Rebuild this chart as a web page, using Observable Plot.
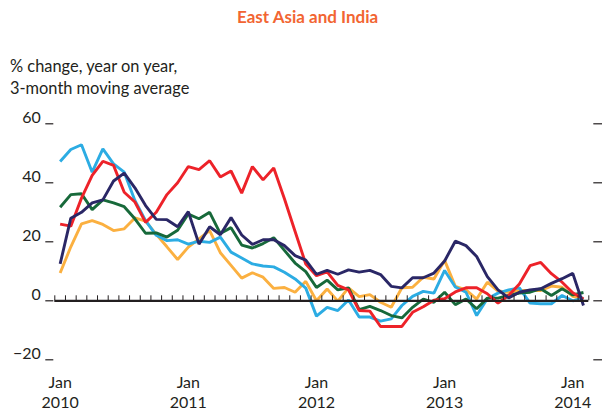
<!DOCTYPE html>
<html><head><meta charset="utf-8">
<script src="https://cdn.jsdelivr.net/npm/d3@7"></script>
<script src="https://cdn.jsdelivr.net/npm/@observablehq/plot@0.6"></script>
<style>
body{margin:0;background:#fff;font-family:Lato,"Open Sans",sans-serif;color:#231f20}
#wrap{width:602px;height:410px;position:relative;overflow:hidden}
#head{position:relative;height:100px}
#title{position:absolute;left:237px;top:6px;font-size:17px;font-weight:700;color:#f26532;white-space:nowrap}
#sub{position:absolute;left:10px;top:55px;font-size:16.4px;line-height:22px;white-space:nowrap}
</style></head><body>
<div id="wrap">
<div id="head"><div id="title">East Asia and India</div><div id="sub">% change, year on year,<br>3-month moving average</div></div>
<div id="chart"></div>
</div>
<script>
// Months: Jan 2010 (index 0) to Feb 2014 (index 49)
const months = d3.range(50);
const red = [26,25.3,34.8,42.5,47.3,45.9,36.8,33.5,26.6,30,36,40,45.5,44.5,47.5,42,44,36.5,45.5,41,45,34.6,23.5,12.5,8.5,9.8,5.2,3.7,-3.3,-3.5,-8.7,-8.7,-8.7,-3.9,-2,0.2,0.7,3,4.4,4.4,2.4,-0.8,1.8,5.7,11.9,13,9.2,6.3,2.7,0.6];
const lightBlue = [47.2,51.3,52.9,43.6,51.5,46.4,43.6,34,27.2,22.2,20.4,20.7,19.2,20.2,19.8,21.6,16.5,14.5,12.5,11.8,11.5,9.7,7.4,4.3,-5.2,-2.2,-3.3,0.3,-5.5,-5.5,-6.9,-6.1,-1.6,1.5,3.2,2.6,10.3,4.7,2.9,-5,0.7,2.6,3.7,4.4,-0.8,-1,-1,1.8,0,1];
const navy = [12.5,28,30,33.2,34.2,40.6,43.3,38.3,32.3,27.6,27.5,25.1,30.2,19.2,25.1,22.4,28.2,22.3,19.1,20.7,20.7,18.7,15.3,13.8,9,10.3,9,10.5,9.7,10.3,8.9,4.9,4.4,7.8,7.8,9.4,13.5,20.2,18.7,15,8.2,3.7,1,2.9,3.7,4.1,5.9,7.5,9.3,-1.6];
const green = [31.7,36,36.3,30.9,34.2,33.2,31.9,27.8,22.9,23,21.6,23.9,29.4,27.8,30,22.8,24.8,18.9,17.9,19.4,21.4,17.1,12.8,9.9,4.5,7,3.7,4.4,-3,-1.9,-3.3,-5,-5.8,-2.2,0.6,-0.5,2.9,-1.3,0.6,-2.7,0.9,0.9,1.8,2.6,2.9,4.1,1.8,4.1,2,2.8];
const orange = [9.4,18.3,26.1,27.2,25.9,23.8,24.4,28.1,27,22.5,18.3,14,18.2,21,23.8,16.3,12,7.7,9.5,8,4.2,4.5,2.9,6.6,0,4,-0.1,4.4,1.4,2.1,-0.5,-2.2,4.4,4.6,8,7.4,13.7,4.9,3.7,0.6,6.3,3.3,2.9,3.5,3.5,3.5,5,4.6,1.5,0.6];

const seriesNames = ["Series A","Series B","Series C","Series D","Series E"];
const seriesColors = ["#fbb040","#2cace3","#17693a","#ed2229","#2a2766"];
const seriesValues = [orange, lightBlue, green, red, navy];

const yTicks = [-20,0,20,40,60];
const yLabels = ["\u221220","0","20","40","60"];
const janIndex = [0,12,24,36,48];
const janLabels = ["Jan\n2010","Jan\n2011","Jan\n2012","Jan\n2013","Jan\n2014"];
const monthBounds = d3.range(-0.5, 50, 1);

const data = seriesNames.flatMap((name, k) => seriesValues[k].map((v, j) => ({series: name, month: months[j], value: v})));

const chart = Plot.plot({
  width: 602, height: 310,
  marginTop: 23.3, marginBottom: 50.7, marginLeft: 54.3, marginRight: 13.7,
  style: {fontFamily: "Lato, 'Open Sans', sans-serif", fontSize: "16px", color: "#231f20", background: "transparent", overflow: "visible"},
  x: {domain: [-0.5, 49.5], axis: null},
  y: {domain: [-20, 60], axis: null},
  color: {type: "ordinal", domain: seriesNames, range: seriesColors},
  marks: [
    Plot.axisY(yTicks, {anchor: "left", label: null, tickSize: 0, tickPadding: 14, dy: -6, tickFormat: d => yLabels[yTicks.indexOf(d)], fontSize: 16, fill: "#231f20"}),
    Plot.ruleY(yTicks, {y: d => d, x1: -0.5, x2: -0.5, insetLeft: -9, insetRight: 1, stroke: "#231f20", strokeWidth: 1.2}),
    Plot.ruleY(yTicks, {y: d => d, x1: 49.5, x2: 49.5, insetLeft: 5, insetRight: -14, stroke: "#231f20", strokeWidth: 1.2}),
    Plot.axisX(janIndex, {anchor: "bottom", label: null, tickSize: 0, tickPadding: 14, tickFormat: d => janLabels[janIndex.indexOf(d)], fontSize: 16, lineHeight: 1.25, fill: "#231f20"}),
    Plot.line(data, {x: "month", y: "value", z: "series", stroke: "series", strokeWidth: 2.9, strokeLinejoin: "miter", strokeLinecap: "butt"}),
    Plot.ruleX(monthBounds, {x: d => d, y1: 0, y2: 0, insetBottom: 5, stroke: "#231f20", strokeWidth: 1}),
    Plot.ruleY([0], {stroke: "#231f20", strokeWidth: 2.2})
  ]
});
document.getElementById("chart").appendChild(chart);
</script>
</body></html>
